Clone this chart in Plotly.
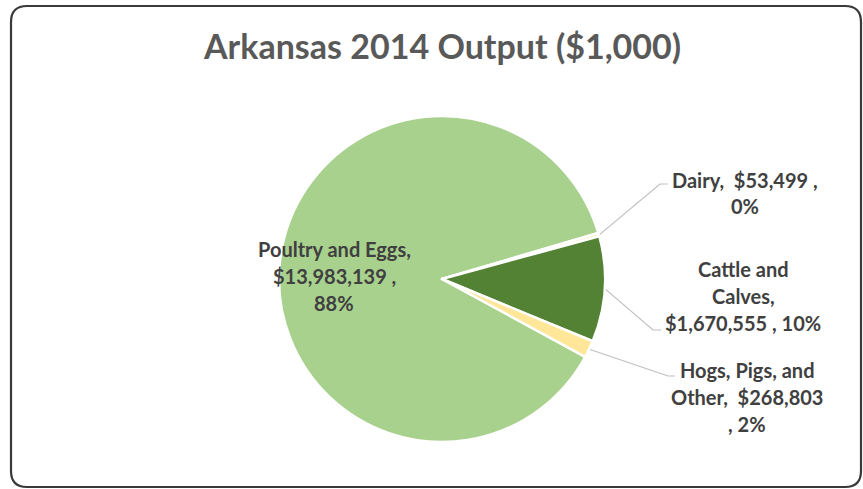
import math
import plotly.graph_objects as go

# Arkansas farm output, 2014, in thousands of dollars
categories = ["Poultry and Eggs", "Dairy", "Cattle and Calves", "Hogs, Pigs, and Other"]
values = [13983139, 53499, 1670555, 268803]
colors = ["#A9D18E", "#FFE699", "#548235", "#FFE699"]

W, H = 863, 489
CX, CY, R = 442, 279, 163      # pie centre and radius in pixels
ROT = 118.5                    # first slice starts this many degrees clockwise from 12 o'clock

FONT = "Lato"
LABEL_COLOR = "#404040"
LEADER_COLOR = "#BFBFBF"


def fx(x):
    return x / W


def fy(y):
    return 1 - y / H


total = sum(values)
pct = [round(v / total * 100) for v in values]
money = [f"${v:,}" for v in values]

fig = go.Figure(
    go.Pie(
        labels=categories,
        values=values,
        sort=False,
        direction="clockwise",
        rotation=ROT,
        marker=dict(colors=colors, line=dict(color="white", width=2.5)),
        textinfo="none",
        hoverinfo="label+value+percent",
        domain=dict(x=[fx(CX - R), fx(CX + R)], y=[fy(CY + R), fy(CY - R)]),
    )
)

# slice mid-angles (clockwise from 12 o'clock) for leader lines
mid = []
acc = 0.0
for v in values:
    frac = v / total
    mid.append(ROT + 360 * (acc + frac / 2))
    acc += frac


def edge(i, extra=1.0):
    a = math.radians(mid[i])
    return CX + (R + extra) * math.sin(a), CY - (R + extra) * math.cos(a)


# label text lines and where each block sits
label_blocks = [
    (0, [f"{categories[0]},", f"{money[0]} ,", f"{pct[0]}%"], 334, [249, 276, 303], None),
    (1, [f"Dairy,  {money[1]} ,", f"{pct[1]}%"], 745, [180, 206], [(660, 184), (668, 184)]),
    (2, ["Cattle and", "Calves,", f"{money[2]} , {pct[2]}%"], 743, [269, 296, 323], [(653, 330), (661, 330)]),
    (3, ["Hogs, Pigs, and", f"Other,  {money[3]}", f", {pct[3]}%"], 747, [370, 397, 424], [(668, 376), (675, 376)]),
]

annotations = []
shapes = []
for idx, lines, xc, ys, leader in label_blocks:
    for text, yc in zip(lines, ys):
        annotations.append(dict(
            x=fx(xc), y=fy(yc), xref="paper", yref="paper",
            text=text, showarrow=False, xanchor="center", yanchor="middle",
            font=dict(family=FONT, size=20, color=LABEL_COLOR, weight="bold"),
        ))
    if leader:
        sx, sy = edge(idx)
        pts = [(sx, sy)] + leader
        path = "M " + " L ".join(f"{fx(px)},{fy(py)}" for px, py in pts)
        shapes.append(dict(type="path", xref="paper", yref="paper", path=path,
                           line=dict(color=LEADER_COLOR, width=1.2)))

# rounded chart frame
x0, y0, x1, y1, rr = 11, 6, 861, 487, 16
frame = (
    f"M {fx(x0 + rr)},{fy(y0)} L {fx(x1 - rr)},{fy(y0)} "
    f"Q {fx(x1)},{fy(y0)} {fx(x1)},{fy(y0 + rr)} "
    f"L {fx(x1)},{fy(y1 - rr)} Q {fx(x1)},{fy(y1)} {fx(x1 - rr)},{fy(y1)} "
    f"L {fx(x0 + rr)},{fy(y1)} Q {fx(x0)},{fy(y1)} {fx(x0)},{fy(y1 - rr)} "
    f"L {fx(x0)},{fy(y0 + rr)} Q {fx(x0)},{fy(y0)} {fx(x0 + rr)},{fy(y0)} Z"
)
shapes.append(dict(type="path", xref="paper", yref="paper", path=frame,
                   line=dict(color="#3A3A3A", width=2.2), layer="below"))

annotations.append(dict(
    x=fx(442), y=fy(46), xref="paper", yref="paper",
    text="Arkansas 2014 Output ($1,000)", showarrow=False,
    xanchor="center", yanchor="middle",
    font=dict(family=FONT, size=34, color="#595959", weight="bold"),
))

fig.update_layout(
    width=W, height=H,
    margin=dict(l=0, r=0, t=0, b=0),
    paper_bgcolor="white",
    plot_bgcolor="white",
    showlegend=False,
    annotations=annotations,
    shapes=shapes,
)

fig.write_html("out.html")
